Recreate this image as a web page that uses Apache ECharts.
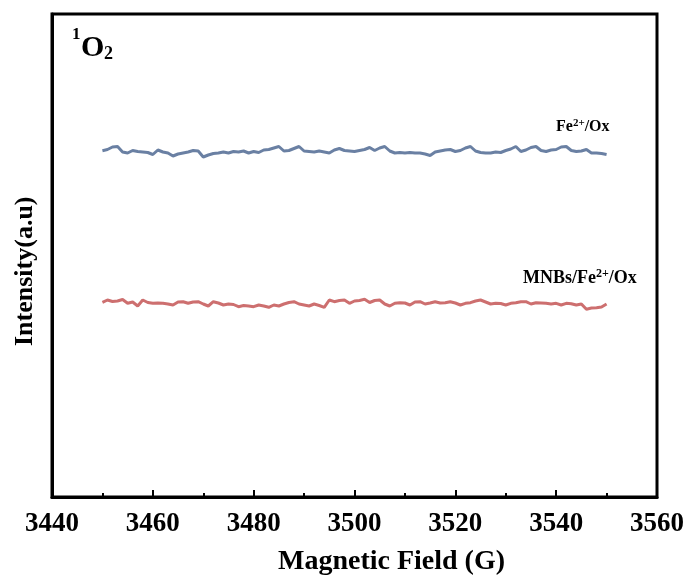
<!DOCTYPE html>
<html>
<head>
<meta charset="utf-8">
<script src="https://cdn.jsdelivr.net/npm/echarts@6/dist/echarts.min.js"></script>
<style>
  html, body { margin: 0; padding: 0; background: #fff; }
  #chart { width: 687px; height: 580px; }
</style>
</head>
<body>
<div id="chart"></div>
<script>
// Magnetic field sweep (G), 1 G steps
const fieldStart = 3450;
const fieldEnd = 3550;

// EPR spectrum, Fe2+/Ox (a.u.)
const feOx = [
  346.3, 347.5, 350, 350.5, 345, 344, 346.5, 345.5, 345, 344.5,
  342.5, 347, 345, 344, 341, 343, 344, 345, 346.5, 346,
  340, 342, 343.5, 344, 345, 344, 345.5, 345, 346, 344,
  345.5, 344.5, 347, 347.5, 349, 350.5, 346, 346.5, 348.5, 350.5,
  346, 345.5, 345, 346, 345, 344, 347, 348.5, 346.5, 346,
  345.5, 346.5, 347.5, 349.5, 346.5, 349, 350.5, 346, 344, 344.5,
  344, 344.5, 344, 344, 343, 341.5, 345, 346, 347, 347.5,
  345.5, 346.5, 349, 350.5, 346, 344.5, 344, 344, 345, 344.5,
  346.5, 348, 350.5, 345.5, 347, 349.5, 350.5, 346.5, 345.5, 347,
  347.5, 350, 350.5, 346.5, 345.5, 346, 347.5, 344, 344, 343.5,
  342.5
];

// EPR spectrum, MNBs/Fe2+/Ox (a.u.)
const mnbsFeOx = [
  194.7, 197, 195.5, 196, 197.5, 193.7, 195, 191, 197, 194.5,
  193.7, 194, 193.7, 193, 192, 195, 195.3, 193.7, 195, 195.3,
  193, 191, 195.3, 194, 192, 193, 192.5, 190.3, 191.5, 191,
  190.3, 192, 191, 189.7, 192, 191, 193, 194.5, 195.3, 193,
  192, 191, 193, 191.5, 189.7, 197, 195.3, 196.5, 197, 193.7,
  196, 196.5, 197.7, 194.5, 196.5, 197, 193, 191, 193.7, 194.3,
  194, 192, 195, 195.3, 193, 194, 195.3, 194, 194.3, 195.3,
  194, 192, 193.7, 194.3, 196, 197, 195, 193, 193.7, 193.5,
  192, 193.7, 194.3, 195.3, 195.3, 193, 194.3, 194, 193.7, 193,
  193.7, 192, 193.7, 193.3, 192, 193, 187.7, 189, 189.3, 190,
  193
];

const seriesNames = ['Fe2+/Ox', 'MNBs/Fe2+/Ox'];
const xTicks = { min: 3440, max: 3560, step: 20 };
const yRange = { min: 0, max: 483 };

const pair = (arr) => arr.map((v, i) => [fieldStart + i, v]);

const serif = '"Liberation Serif", "Times New Roman", serif';
const chart = echarts.init(document.getElementById('chart'));

const richLabel = (size) => ({
  n: { fontFamily: serif, fontWeight: 'bold', fontSize: size, fill: '#000' },
  s: { fontFamily: serif, fontWeight: 'bold', fontSize: Math.round(size * 0.68), fill: '#000', verticalAlign: 'top', padding: [0, 0, Math.round(size * 0.45), 0] }
});

chart.setOption({
  backgroundColor: '#fff',
  animation: false,
  grid: {
    left: 52, right: 27, top: 14, bottom: 83,
    show: true, borderColor: '#000', borderWidth: 3,
    containLabel: false
  },
  xAxis: {
    type: 'value',
    min: xTicks.min, max: xTicks.max, interval: xTicks.step,
    axisLine: { show: true, onZero: false, lineStyle: { color: '#000', width: 3 } },
    axisTick: { show: true, inside: true, length: 7, lineStyle: { color: '#000', width: 2 } },
    minorTick: { show: true, splitNumber: 2, length: 4, lineStyle: { color: '#000', width: 2 } },
    splitLine: { show: false },
    axisLabel: {
      color: '#000', fontFamily: serif, fontWeight: 'bold', fontSize: 27, margin: 14,
      formatter: (v) => String(v)
    }
  },
  yAxis: {
    type: 'value',
    min: yRange.min, max: yRange.max,
    axisLine: { show: true, lineStyle: { color: '#000', width: 3 } },
    axisTick: { show: false },
    axisLabel: { show: false },
    splitLine: { show: false }
  },
  series: [
    {
      name: seriesNames[0], type: 'line', data: pair(feOx),
      symbol: 'none', smooth: false,
      lineStyle: { color: '#6a80a3', width: 3 }
    },
    {
      name: seriesNames[1], type: 'line', data: pair(mnbsFeOx),
      symbol: 'none', smooth: false,
      lineStyle: { color: '#cd6f6f', width: 3 }
    }
  ],
  graphic: [
    // axis titles
    {
      type: 'text', left: 278, top: 548,
      style: { text: 'Magnetic Field (G)', fill: '#000', font: 'bold 28px ' + serif }
    },
    {
      type: 'text', x: 12, y: 346, rotation: Math.PI / 2,
      style: { text: 'Intensity(a.u)', fill: '#000', font: 'bold 26px ' + serif }
    },
    // species label: 1O2
    { type: 'text', x: 72, y: 26, style: { text: '1', fill: '#000', font: 'bold 17px ' + serif } },
    { type: 'text', x: 81, y: 33, style: { text: 'O', fill: '#000', font: 'bold 30px ' + serif } },
    { type: 'text', x: 104, y: 45, style: { text: '2', fill: '#000', font: 'bold 18px ' + serif } },
    // curve labels
    { type: 'text', x: 556, y: 118, style: { rich: richLabel(16), text: '{n|Fe}{s|2+}{n|/Ox}' } },
    { type: 'text', x: 523, y: 268, style: { rich: richLabel(18), text: '{n|MNBs/Fe}{s|2+}{n|/Ox}' } }
  ]
});
</script>
</body>
</html>
